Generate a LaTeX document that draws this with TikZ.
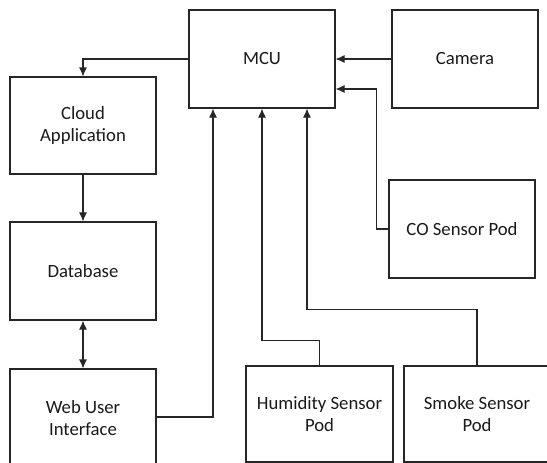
\documentclass[tikz,border=0pt]{standalone}
\usepackage{fontspec}
\setmainfont{Carlito}
\usetikzlibrary{arrows.meta,calc}
\tikzset{
  blk/.style={draw=black!85, line width=1.1pt, minimum width=146pt, minimum height=98pt, inner sep=0pt, align=center, font=\fontsize{18.7}{22.5}\selectfont, text=black!90},
  arr/.style={draw=black!85, line width=1.1pt, -{Latex[length=9pt,width=8pt]}},
  dbl/.style={draw=black!85, line width=1.1pt, {Latex[length=9pt,width=8pt]}-{Latex[length=9pt,width=8pt]}},
  ln/.style={draw=black!85, line width=1.1pt}
}
\begin{document}
\begin{tikzpicture}[x=1pt,y=-1pt]
\useasboundingbox (0,0) rectangle (547,463);
\clip (0,0) rectangle (547,463);
\node[blk] (mcu) at (262,59) {MCU};
\node[blk] (cam) at (465,59) {Camera};
\node[blk, minimum height=97pt] (cloud) at (83,125.5) {Cloud\\Application};
\node[blk] (db) at (83,271) {Database};
\node[blk] (web) at (83,418) {Web User\\Interface};
\node[blk] (co) at (462,229) {CO Sensor Pod};
\node[blk, minimum width=147pt, minimum height=96pt] (hum) at (319.5,414) {Humidity Sensor\\Pod};
\node[blk, minimum height=96pt] (smoke) at (477,414) {Smoke Sensor\\Pod};
\draw[arr] (mcu.west) -| (cloud.north);
\draw[arr] (cloud.south) -- (db.north);
\draw[dbl] (db.south) -- (web.north);
\draw[arr] ([yshift=1pt]web.east) -| ($(mcu.south)+(-49,0)$);
\draw[arr] (hum.north) -- ++(0,-25) -| (mcu.south);
\draw[arr] (smoke.north) -- ++(0,-56) -| ($(mcu.south)+(45,0)$);
\draw[arr] (cam.west) -- (mcu.east);
\draw[arr] (co.west) -- ++(-12,0) |- ($(mcu.east)+(0,30)$);
\end{tikzpicture}
\end{document}
